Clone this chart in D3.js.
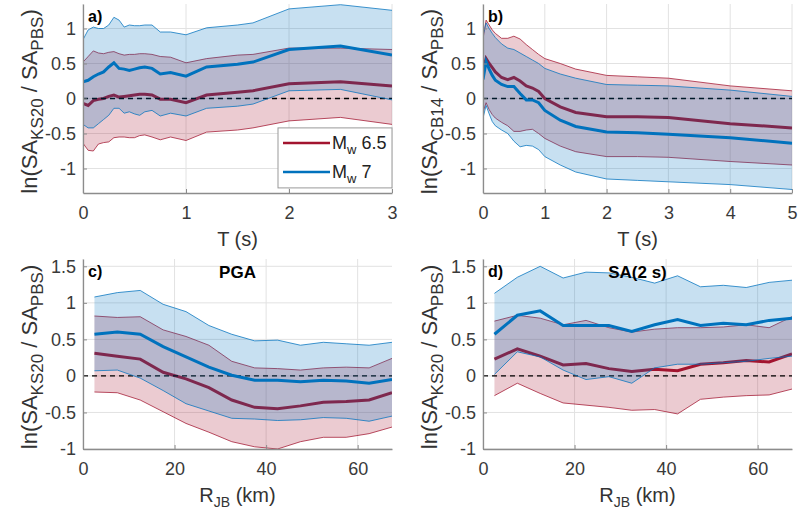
<!DOCTYPE html>
<html>
<head>
<meta charset="utf-8">
<script src="https://cdn.jsdelivr.net/npm/d3@7"></script>
<style>
  body { margin: 0; background: #fff; }
  svg { font-family: "Liberation Sans", Arial, Helvetica, sans-serif; }
</style>
</head>
<body>
<div id="chart"></div>
<script>
// periods (s) and distances (km)
var tA = [0, 0.05, 0.1, 0.15, 0.2, 0.25, 0.3, 0.35, 0.4, 0.45, 0.5, 0.55, 0.6, 0.67, 0.75, 0.85, 1.0, 1.2, 1.5, 1.65, 2.0, 2.5, 3.0];
var tB = [0, 0.05, 0.1, 0.15, 0.2, 0.3, 0.4, 0.5, 0.6, 0.7, 0.8, 0.9, 1.0, 1.25, 1.5, 2, 2.5, 3, 4, 5];
var rJB = [2.5, 7.5, 12.5, 17.5, 22.5, 27.5, 32.5, 37.5, 42.5, 47.5, 52.5, 57.5, 62.5, 67.5];

// panel a) ln(SA_KS20 / SA_PBS) vs T
var aRedUp  = [0.52, 0.6, 0.68, 0.65, 0.64, 0.66, 0.67, 0.64, 0.62, 0.63, 0.63, 0.64, 0.64, 0.63, 0.6, 0.59, 0.51, 0.57, 0.62, 0.63, 0.72, 0.72, 0.70];
var aRedMed = [-0.07, -0.1, -0.03, -0.01, 0, 0.03, 0.05, 0.02, 0.03, 0.04, 0.05, 0.06, 0.06, 0.05, -0.01, -0.01, -0.06, 0.05, 0.09, 0.11, 0.21, 0.24, 0.18];
var aRedLo  = [-0.64, -0.74, -0.75, -0.65, -0.63, -0.62, -0.56, -0.55, -0.55, -0.56, -0.56, -0.53, -0.52, -0.55, -0.59, -0.55, -0.6, -0.48, -0.45, -0.42, -0.32, -0.27, -0.37];
var aBlueUp  = [0.84, 0.98, 1.02, 1.0, 1.0, 1.05, 1.16, 1.12, 1.02, 1.05, 1.04, 1.04, 1.05, 1.05, 0.95, 0.95, 0.91, 1.01, 1.05, 1.08, 1.28, 1.34, 1.26];
var aBlueMed = [0.24, 0.26, 0.31, 0.35, 0.38, 0.45, 0.51, 0.43, 0.42, 0.4, 0.42, 0.44, 0.45, 0.43, 0.35, 0.37, 0.32, 0.45, 0.49, 0.52, 0.70, 0.75, 0.62];
var aBlueLo  = [-0.37, -0.42, -0.42, -0.36, -0.3, -0.24, -0.14, -0.14, -0.21, -0.19, -0.22, -0.24, -0.19, -0.17, -0.25, -0.21, -0.25, -0.14, -0.11, -0.08, 0.11, 0.13, -0.02];

// panel b) ln(SA_CB14 / SA_PBS) vs T
var bRedUp  = [0.85, 1.12, 1.05, 0.98, 0.93, 0.86, 0.86, 0.89, 0.85, 0.77, 0.7, 0.63, 0.57, 0.5, 0.42, 0.33, 0.31, 0.29, 0.18, 0.11];
var bRedMed = [0.38, 0.57, 0.5, 0.44, 0.38, 0.3, 0.27, 0.3, 0.25, 0.18, 0.15, 0.1, 0.0, -0.12, -0.2, -0.26, -0.26, -0.27, -0.36, -0.42];
var bRedLo  = [-0.2, -0.06, -0.16, -0.23, -0.28, -0.34, -0.39, -0.47, -0.47, -0.45, -0.44, -0.5, -0.57, -0.68, -0.76, -0.83, -0.83, -0.84, -0.9, -0.95];
var bBlueUp  = [0.9, 1.08, 1.0, 0.93, 0.87, 0.78, 0.72, 0.7, 0.65, 0.6, 0.55, 0.5, 0.43, 0.35, 0.29, 0.2, 0.19, 0.18, 0.12, 0.03];
var bBlueMed = [0.27, 0.53, 0.42, 0.33, 0.26, 0.2, 0.17, 0.17, 0.07, -0.02, -0.02, -0.06, -0.17, -0.31, -0.4, -0.48, -0.49, -0.51, -0.56, -0.64];
var bBlueLo  = [-0.28, -0.1, -0.22, -0.33, -0.39, -0.45, -0.5, -0.61, -0.69, -0.67, -0.68, -0.73, -0.83, -0.95, -1.05, -1.15, -1.17, -1.19, -1.23, -1.3];

// panel c) PGA vs R_JB
var cRedUp  = [0.82, 0.80, 0.81, 0.63, 0.54, 0.42, 0.20, 0.11, 0.10, 0.08, 0.11, 0.12, 0.11, 0.24];
var cRedMed = [0.31, 0.27, 0.23, 0.05, -0.04, -0.16, -0.33, -0.43, -0.45, -0.41, -0.36, -0.35, -0.33, -0.23];
var cRedLo  = [-0.22, -0.23, -0.33, -0.49, -0.65, -0.77, -0.90, -0.97, -1.0, -0.90, -0.84, -0.84, -0.79, -0.70];
var cBlueUp  = [1.08, 1.14, 1.17, 0.98, 0.88, 0.69, 0.57, 0.48, 0.49, 0.42, 0.46, 0.44, 0.42, 0.46];
var cBlueMed = [0.57, 0.60, 0.57, 0.40, 0.26, 0.12, 0.01, -0.06, -0.06, -0.08, -0.06, -0.07, -0.10, -0.05];
var cBlueLo  = [0.07, 0.08, -0.03, -0.20, -0.38, -0.48, -0.58, -0.59, -0.61, -0.60, -0.57, -0.58, -0.62, -0.55];

// panel d) SA(2 s) vs R_JB
var dRedUp  = [0.75, 0.83, 0.79, 0.70, 0.76, 0.66, 0.60, 0.64, 0.66, 0.66, 0.67, 0.70, 0.66, 0.81];
var dRedMed = [0.23, 0.37, 0.27, 0.15, 0.17, 0.10, 0.06, 0.09, 0.07, 0.16, 0.18, 0.21, 0.19, 0.30];
var dRedLo  = [-0.27, -0.10, -0.24, -0.37, -0.40, -0.43, -0.47, -0.46, -0.52, -0.32, -0.29, -0.27, -0.26, -0.18];
var dBlueUp  = [1.13, 1.35, 1.50, 1.34, 1.42, 1.41, 1.35, 1.27, 1.37, 1.22, 1.24, 1.21, 1.28, 1.31];
var dBlueMed = [0.57, 0.83, 0.89, 0.69, 0.69, 0.69, 0.61, 0.70, 0.77, 0.69, 0.72, 0.70, 0.76, 0.79];
var dBlueLo  = [0.02, 0.33, 0.26, 0.08, -0.05, -0.01, -0.10, 0.11, 0.16, 0.16, 0.18, 0.20, 0.24, 0.27];

var xTicksA = [0, 1, 2, 3];
var xTicksB = [0, 1, 2, 3, 4, 5];
var xTicksR = [0, 20, 40, 60];
var yTicksTop = [-1, -0.5, 0, 0.5, 1];
var yTicksBot = [-1, -0.5, 0, 0.5, 1, 1.5];
var legendLabels = ["6.5", "7"];

var red = "#A2142F", blue = "#0072BD";

var svg = d3.select("#chart")
  .append("svg")
    .attr("width", 799)
    .attr("height", 514);

var panels = [
  {id: "a", left: 83, right: 392, top: 4, bottom: 193, x: tA, xDom: [0, 3], xTicks: xTicksA,
   yDom: [-1.35, 1.35], yTicks: yTicksTop, sub: "KS20", xlab: "T", unit: " (s)", tag: "a)", legend: true,
   red: [aRedUp, aRedMed, aRedLo], blue: [aBlueUp, aBlueMed, aBlueLo]},
  {id: "b", left: 483, right: 792, top: 4, bottom: 193, x: tB, xDom: [0, 5], xTicks: xTicksB,
   yDom: [-1.35, 1.35], yTicks: yTicksTop, sub: "CB14", xlab: "T", unit: " (s)", tag: "b)",
   red: [bRedUp, bRedMed, bRedLo], blue: [bBlueUp, bBlueMed, bBlueLo]},
  {id: "c", left: 83, right: 392, top: 259, bottom: 449, x: rJB, xDom: [0, 67.5], xTicks: xTicksR,
   yDom: [-1, 1.6], yTicks: yTicksBot, sub: "KS20", xlab: "R", xsub: "JB", unit: " (km)", tag: "c)", title: "PGA",
   red: [cRedUp, cRedMed, cRedLo], blue: [cBlueUp, cBlueMed, cBlueLo]},
  {id: "d", left: 483, right: 792, top: 259, bottom: 449, x: rJB, xDom: [0, 67.5], xTicks: xTicksR,
   yDom: [-1, 1.6], yTicks: yTicksBot, sub: "KS20", xlab: "R", xsub: "JB", unit: " (km)", tag: "d)", title: "SA(2 s)",
   red: [dRedUp, dRedMed, dRedLo], blue: [dBlueUp, dBlueMed, dBlueLo]}
];

panels.forEach(function(p) {
  var w = p.right - p.left, h = p.bottom - p.top;
  var g = svg.append("g").attr("transform", "translate(" + p.left + "," + p.top + ")");
  var x = d3.scaleLinear().domain(p.xDom).range([0, w]);
  var y = d3.scaleLinear().domain(p.yDom).range([h, 0]);

  g.append("clipPath").attr("id", "clip" + p.id)
    .append("rect").attr("width", w).attr("height", h);

  // grid
  g.selectAll(".vg").data(p.xTicks).enter().append("line")
    .attr("x1", function(d) { return x(d); }).attr("x2", function(d) { return x(d); })
    .attr("y1", 0).attr("y2", h)
    .attr("stroke", "#e2e2e2").attr("stroke-width", 1);
  g.selectAll(".hg").data(p.yTicks).enter().append("line")
    .attr("x1", 0).attr("x2", w)
    .attr("y1", function(d) { return y(d); }).attr("y2", function(d) { return y(d); })
    .attr("stroke", "#e2e2e2").attr("stroke-width", 1);

  var plot = g.append("g").attr("clip-path", "url(#clip" + p.id + ")");

  function band(s, col, medW) {
    var rows = p.x.map(function(t, i) { return {t: t, up: s[0][i], med: s[1][i], lo: s[2][i]}; });
    plot.append("path").datum(rows)
      .attr("d", d3.area().x(function(d) { return x(d.t); })
        .y0(function(d) { return y(d.lo); }).y1(function(d) { return y(d.up); }))
      .attr("fill", col).attr("fill-opacity", 0.22);
    ["up", "lo"].forEach(function(k) {
      plot.append("path").datum(rows)
        .attr("d", d3.line().x(function(d) { return x(d.t); }).y(function(d) { return y(d[k]); }))
        .attr("fill", "none").attr("stroke", col).attr("stroke-width", 1).attr("stroke-opacity", 0.75);
    });
    plot.append("path").datum(rows)
      .attr("d", d3.line().x(function(d) { return x(d.t); }).y(function(d) { return y(d.med); }))
      .attr("fill", "none").attr("stroke", col).attr("stroke-width", medW);
  }
  band(p.red, red, 3);

  // zero line
  plot.append("line")
    .attr("x1", 0).attr("x2", w).attr("y1", y(0)).attr("y2", y(0))
    .attr("stroke", "#000").attr("stroke-width", 1.4).attr("stroke-dasharray", "5,4");

  band(p.blue, blue, 3);

  // axes
  var ax = g.append("g").attr("transform", "translate(0," + h + ")")
    .call(d3.axisBottom(x).tickValues(p.xTicks).tickFormat(function(d) { return String(d); })
      .tickSizeInner(-4).tickSizeOuter(0).tickPadding(13));
  var ay = g.append("g")
    .call(d3.axisLeft(y).tickValues(p.yTicks).tickFormat(function(d) { return String(d); })
      .tickSizeInner(-4).tickSizeOuter(0).tickPadding(7));
  [ax, ay].forEach(function(a) {
    a.select(".domain").attr("stroke", "#8c8c8c").attr("stroke-width", 1.3);
    a.selectAll(".tick line").attr("stroke", "#8c8c8c");
    a.selectAll(".tick text").attr("fill", "#3a3a3a").style("font-size", "18px")
      .style("font-family", "'Liberation Sans', Arial, sans-serif");
  });

  // x label
  var xl = g.append("text")
    .attr("x", w / 2).attr("y", h + 53)
    .attr("text-anchor", "middle").attr("fill", "#333").style("font-size", "20px");
  xl.append("tspan").text(p.xlab);
  if (p.xsub) {
    xl.append("tspan").attr("dy", 5).style("font-size", "14px").text(p.xsub);
    xl.append("tspan").attr("dy", -5).text(p.unit);
  } else {
    xl.append("tspan").text(p.unit);
  }

  // y label
  var yl = g.append("text")
    .attr("transform", "translate(-46," + (h / 2 + 3) + ") rotate(-90)")
    .attr("text-anchor", "middle").attr("fill", "#333").style("font-size", "22px");
  yl.append("tspan").text("ln(SA");
  yl.append("tspan").attr("dy", 6).style("font-size", "17px").text(p.sub);
  yl.append("tspan").attr("dy", -6).text(" / SA");
  yl.append("tspan").attr("dy", 6).style("font-size", "17px").text("PBS");
  yl.append("tspan").attr("dy", -6).text(")");

  // panel tag and title
  g.append("text").attr("x", 5).attr("y", 18)
    .attr("fill", "#000").style("font-size", "16px").style("font-weight", "bold").text(p.tag);
  if (p.title) {
    g.append("text").attr("x", w / 2).attr("y", 19).attr("text-anchor", "middle")
      .attr("fill", "#000").style("font-size", "17px").style("font-weight", "bold").text(p.title);
  }

  // legend
  if (p.legend) {
    var lg = g.append("g").attr("transform", "translate(" + (w - 114) + "," + (y(-0.42)) + ")");
    lg.append("rect").attr("width", 114).attr("height", 60)
      .attr("fill", "#fff").attr("stroke", "#999").attr("stroke-width", 1);
    [red, blue].forEach(function(c, i) {
      var yy = 15 + i * 29;
      lg.append("line").attr("x1", 5).attr("x2", 52).attr("y1", yy).attr("y2", yy)
        .attr("stroke", c).attr("stroke-width", 2.5);
      var t = lg.append("text").attr("x", 54).attr("y", yy + 6)
        .attr("fill", "#222").style("font-size", "18px");
      t.append("tspan").text("M");
      t.append("tspan").attr("dy", 5).style("font-size", "13px").text("w");
      t.append("tspan").attr("dy", -5).text(" " + legendLabels[i]);
    });
  }
});
</script>
</body>
</html>
